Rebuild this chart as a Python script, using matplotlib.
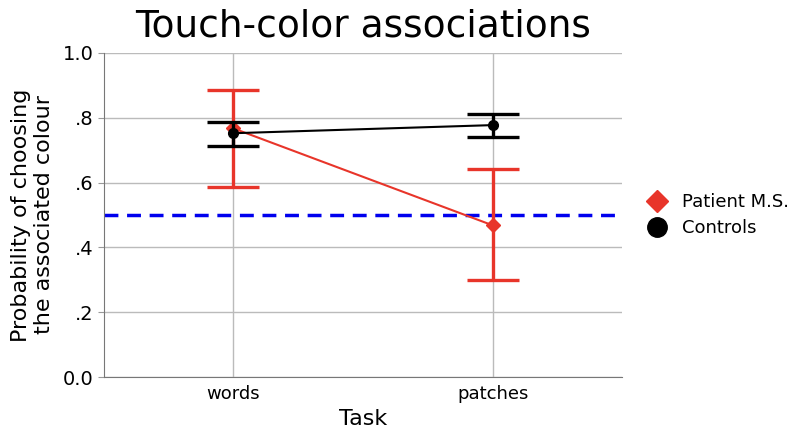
import numpy as np
import matplotlib
matplotlib.use('Agg')
from matplotlib import pyplot as plt
from matplotlib.lines import Line2D

tasks = ['words', 'patches']
patient_mean = [0.767, 0.468]
patient_low = [0.586, 0.299]
patient_high = [0.886, 0.642]
controls_mean = [0.752, 0.777]
controls_low = [0.713, 0.741]
controls_high = [0.787, 0.811]
chance = 0.5

red = '#e8352a'
x = np.arange(len(tasks))

fig = plt.figure(figsize=(8.04, 4.4), dpi=100)
ax = fig.add_axes([0.129, 0.143, 0.645, 0.737])

pm = np.array(patient_mean)
cm = np.array(controls_mean)
ax.errorbar(x, pm, yerr=[pm - np.array(patient_low), np.array(patient_high) - pm],
            fmt='none', ecolor=red, elinewidth=2.4, capsize=18.5, capthick=2.4, zorder=3)
ax.plot(x, pm, color=red, lw=1.5, marker='D', ms=7, zorder=4)
ax.errorbar(x, cm, yerr=[cm - np.array(controls_low), np.array(controls_high) - cm],
            fmt='none', ecolor='black', elinewidth=2.4, capsize=18.5, capthick=2.4, zorder=5)
ax.plot(x, cm, color='black', lw=1.5, marker='o', ms=7, zorder=6)

ax.axhline(chance, color='#0000ee', lw=2.5, ls=(0, (4, 2.5)), zorder=2)

ax.set_xlim(-0.5, 1.5)
ax.set_ylim(0, 1.0)
ax.set_xticks(x)
ax.set_xticklabels(tasks, fontsize=13)
ax.set_yticks([0, 0.2, 0.4, 0.6, 0.8, 1.0])
ax.set_yticklabels(['0.0', '.2', '.4', '.6', '.8', '1.0'], fontsize=14)
ax.grid(True, color='#bbbbbb', lw=1)
ax.set_axisbelow(True)
for s in ['top', 'right']:
    ax.spines[s].set_visible(False)
for s in ['left', 'bottom']:
    ax.spines[s].set_color('#777777')
ax.tick_params(axis='y', color='#999999', length=4)
ax.tick_params(axis='x', length=0, pad=6)

ax.set_xlabel('Task', fontsize=16)
ax.set_ylabel('Probability of choosing\nthe associated colour', fontsize=16, labelpad=6)
ax.set_title('Touch-color associations', fontsize=27, pad=12)

handles = [Line2D([], [], color=red, marker='D', ls='none', ms=11),
           Line2D([], [], color='black', marker='o', ls='none', ms=14)]
ax.legend(handles, ['Patient M.S.', 'Controls'], loc='center left',
          bbox_to_anchor=(1.0, 0.5), frameon=False, fontsize=13,
          handletextpad=0.4, labelspacing=0.45)

fig.savefig('out.png', dpi=100)
